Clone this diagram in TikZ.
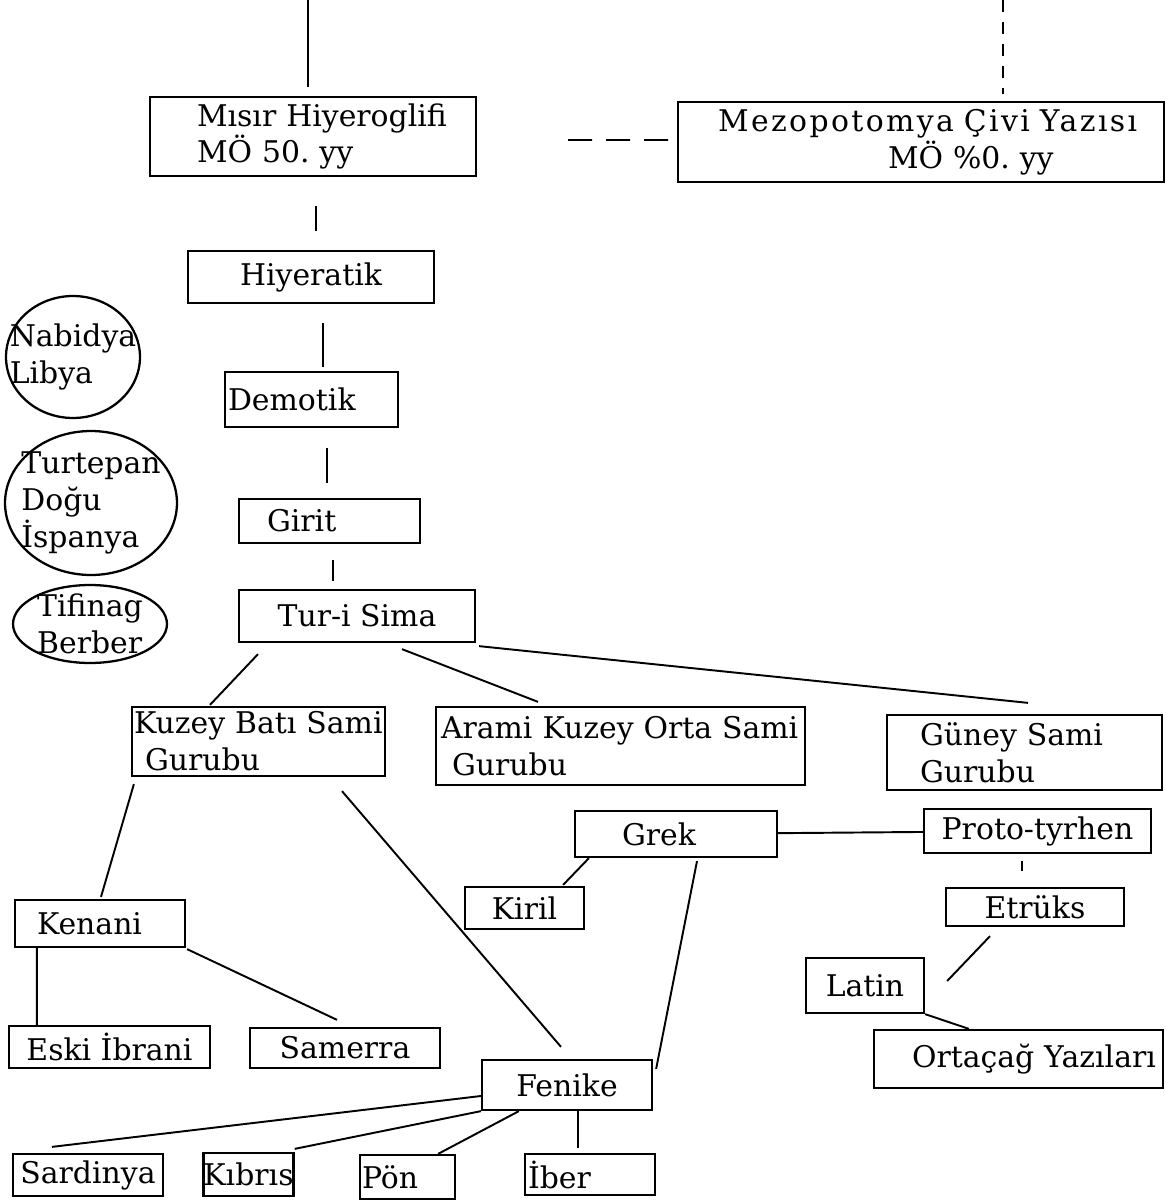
\documentclass[tikz,border=0pt]{standalone}
\usepackage{fontspec}
\setmainfont{DejaVu Serif}
\usetikzlibrary{calc,shapes.geometric}
\frenchspacing

\begin{document}
\begin{tikzpicture}[
  x=0.02cm, y=-0.02cm, line width=1.1pt,
  font=\fontsize{17}{21}\selectfont,
  box/.style={draw, line width=1.3pt, inner sep=0pt},
  lbox/.style={box, align=left, text width=#1},
  oval/.style={draw, ellipse, line width=1.3pt, inner sep=-1.5cm, align=left},
  gap/.style={dash pattern=on 0.24cm off 0.2cm}]
  \useasboundingbox (0,0) rectangle (1166,1200);
  % top row
  \node[lbox=6.52cm, minimum height=1.58cm] (misir) at (313,136.5) {\hspace*{0.94cm}Mısır Hiyeroglifi\\\hspace*{0.94cm}MÖ 50. yy};
  \node[lbox=9.72cm, minimum height=1.6cm] (mezo) at (921,142) {\hspace*{0.8cm}\mbox{\addfontfeature{LetterSpace=8}Mezopotomya Çivi Yazısı}\\\hspace*{4.2cm}MÖ \%0. yy};
  % egyptian chain
  \node[box, minimum width=4.92cm, minimum height=1.04cm] (hiyeratik) at (311,277) {Hiyeratik};
  \node[lbox=3.46cm, minimum height=1.1cm] (demotik) at (311.5,399.5) {\hspace*{0.06cm}Demotik};
  \node[lbox=3.62cm, minimum height=0.88cm] (girit) at (329.5,521) {\hspace*{0.56cm}Girit};
  \node[box, minimum width=4.72cm, minimum height=1.04cm] (tursina) at (357,616) {Tur-i Sima};
  % side scripts
  \node[oval, minimum width=2.68cm, minimum height=2.44cm] (nabidya) at (73,357) {Nabidya\\Libya};
  \node[oval, minimum width=3.44cm, minimum height=2.88cm] (turtepan) at (91,503) {Turtepan\\Doğu\\İspanya};
  \node[oval, minimum width=3.08cm, minimum height=1.56cm] (tifinag) at (90,624) {Tifinag\\Berber};
  % semitic groups
  \node[lbox=5.06cm, minimum height=1.38cm] (kbs) at (258.5,741.5) {\hspace*{0.04cm}\mbox{Kuzey Batı Sami}\\\hspace*{0.26cm}Gurubu};
  \node[lbox=7.38cm, minimum height=1.56cm] (arami) at (620.5,746) {\hspace*{0.1cm}\mbox{Arami Kuzey Orta Sami}\\\hspace*{0.32cm}Gurubu};
  \node[lbox=5.5cm, minimum height=1.5cm] (guney) at (1024.5,752.5) {\hspace*{0.66cm}Güney Sami\\\hspace*{0.66cm}Gurubu};
  % greek side
  \node[lbox=4.04cm, minimum height=0.92cm] (grek) at (676,834) {\hspace*{0.94cm}Grek};
  \node[box, minimum width=4.54cm, minimum height=0.88cm] (proto) at (1037.5,831) {Proto-tyrhen};
  \node[box, minimum width=2.38cm, minimum height=0.84cm] (kiril) at (524.5,908) {Kiril};
  \node[box, minimum width=3.56cm, minimum height=0.76cm] (etruks) at (1035,907) {Etrüks};
  \node[box, minimum width=2.36cm, minimum height=1.1cm] (latin) at (865,985.5) {Latin};
  \node[lbox=5.78cm, minimum height=1.16cm] (ortacag) at (1018.5,1059) {\hspace*{0.76cm}Ortaçağ Yazıları};
  % canaanite side
  \node[lbox=3.4cm, minimum height=0.94cm] (kenani) at (100,923.5) {\hspace*{0.44cm}Kenani};
  \node[box, minimum width=4.02cm, minimum height=0.84cm] (eski) at (109.5,1047) {Eski İbrani};
  \node[box, minimum width=3.8cm, minimum height=0.8cm] (samerra) at (345,1048) {Samerra};
  \node[box, minimum width=3.4cm, minimum height=1cm] (fenike) at (567,1085) {Fenike};
  % bottom row
  \node[box, minimum width=3cm, minimum height=0.84cm] (sardinya) at (88,1175) {Sardinya};
  \node[box, minimum width=1.66cm, minimum height=0.86cm] (kibris) at (248.5,1174.5) {Kıbrıs};
  \node[lbox=1.9cm, minimum height=0.88cm] (pon) at (407.5,1177) {\hspace*{0.04cm}Pön};
  \node[lbox=2.6cm, minimum height=0.82cm] (iber) at (590,1174.5) {\hspace*{0.06cm}İber};

  \coordinate (top1) at (308,0);
  \coordinate (top2) at (1003,0);
  \draw (top1) -- ($(top1 |- misir.north)+(0,-9)$);
  \draw[gap] (top2) -- ($(top2 |- mezo.north)+(0,-7)$);
  \draw[dash pattern=on 0.48cm off 0.28cm] ($(misir.east)+(91,3.5)$) -- ($(mezo.west)+(-6,-2)$);
  \draw ($(misir.south)+(3,29)$) -- ($(hiyeratik.north)+(5,-19)$);
  \draw ($(hiyeratik.south)+(12,19)$) -- ($(demotik.north)+(11.5,-4)$);
  \draw ($(demotik.south)+(15.5,20)$) -- ($(girit.north)+(-2.5,-15)$);
  \draw ($(girit.south)+(3.5,16)$) -- ($(tursina.north)+(-24,-8)$);
  \draw ($(tursina.south)+(-99,11)$) -- ($(kbs.north)+(-48.5,-1)$);
  \draw ($(tursina.south)+(45,6)$) -- ($(arami.north)+(-82.5,-4)$);
  \draw ($(tursina.south east)+(3,3)$) -- ($(guney.north)+(3.5,-11)$);
  \draw ($(kbs.south west)+(3,7)$) -- ($(kenani.north)+(1,-2)$);
  \draw ($(kbs.south)+(83.5,14)$) -- ($(fenike.north)+(-6,-12)$);
  \draw ($(kenani.south west)+(23,0)$) -- ($(eski.north west)+(29,0)$);
  \draw ($(kenani.south east)+(1,1)$) -- ($(samerra.north)+(-8,-7)$);
  \draw (grek) -- (proto);
  \draw ($(grek.south west)+(15,0)$) -- ($(kiril.north east)+(-22,-1)$);
  \draw ($(grek.south)+(21,3)$) -- ($(fenike.north east)+(3,10)$);
  \draw ($(proto.south)+(-15.5,7)$) -- ($(etruks.north)+(-13,-16)$);
  \draw ($(etruks.south)+(-45,9)$) -- ($(latin.east)+(22,-4.5)$);
  \draw (latin.south east) -- ($(ortacag.north west)+(96,0)$);
  \draw ($(fenike.west)+(0,11)$) -- ($(sardinya.north)+(-36,-6)$);
  \draw (fenike.south west) -- ($(kibris.north east)+(0,-3)$);
  \draw ($(fenike.south west)+(38,0)$) -- ($(pon.north east)+(-18,0)$);
  \draw ($(fenike.south)+(11,0)$) -- ($(iber.north)+(-12,-5)$);
\end{tikzpicture}
\end{document}
